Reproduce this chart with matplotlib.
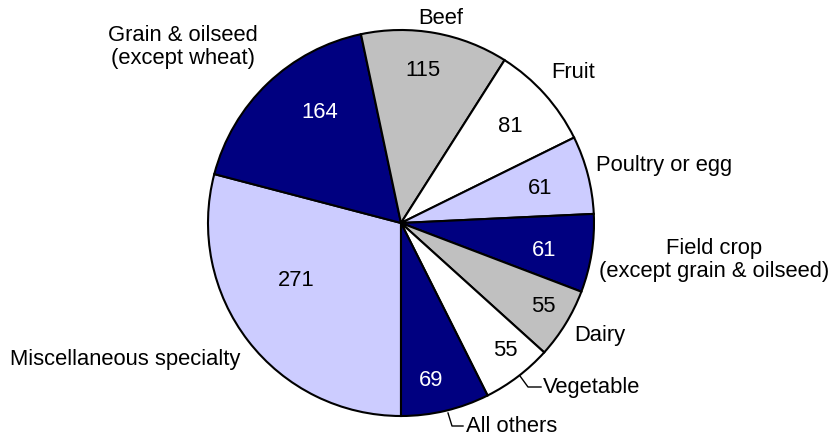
import matplotlib
matplotlib.use("Agg")
import matplotlib.pyplot as plt

# data (clockwise from the bottom)
categories = ["Miscellaneous specialty", "Grain & oilseed\n(except wheat)", "Beef", "Fruit",
              "Poultry or egg", "Field crop\n(except grain & oilseed)", "Dairy", "Vegetable", "All others"]
values = [271, 164, 115, 81, 61, 61, 55, 55, 69]

colours = ["#CCCCFF", "#000080", "#C0C0C0", "#FFFFFF", "#CCCCFF", "#000080", "#C0C0C0", "#FFFFFF", "#000080"]
num_colours = ["black", "white", "black", "black", "black", "white", "black", "black", "white"]

H = 436
# pixel positions of value labels and category labels (x, y from top)
num_pos = [(296, 281), (320, 113), (423, 70), (510, 127), (540, 188), (544, 250), (543, 306), (505, 350), (431, 380)]
cat_pos = [(125, 359, "center"), (183, 47, "center"), (441, 19, "center"), (573, 73, "center"),
           (664, 166, "center"), (714, 260, "center"), (600, 335, "center"), (543, 387, "left"), (466, 426, "left")]

plt.rcParams["font.family"] = ["Liberation Sans", "DejaVu Sans"]
fig = plt.figure(figsize=(8.3, 4.36), dpi=100)
ax = fig.add_axes([0, 0, 1, 1])

ax.pie(values, colors=colours, startangle=270, counterclock=False,
       center=(401, H - 223), radius=193,
       wedgeprops=dict(edgecolor="black", linewidth=1.5), frame=True)
ax.set_xlim(0, 830)
ax.set_ylim(0, H)
ax.set_aspect("equal")
ax.axis("off")

fs = 15.8
for v, (x, y), c in zip(values, num_pos, num_colours):
    ax.text(x, H - y, str(v), ha="center", va="center", fontsize=fs, color=c)

for lab, (x, y, ha) in zip(categories, cat_pos):
    ax.text(x, H - y, lab, ha=ha, va="center", fontsize=fs, color="black", linespacing=1.12)

# leader lines
ax.plot([520, 528, 541], [H - 376, H - 387, H - 387], color="black", lw=1)
ax.plot([448, 452, 463], [H - 413, H - 426, H - 426], color="black", lw=1)

fig.savefig("out.png", dpi=100)
